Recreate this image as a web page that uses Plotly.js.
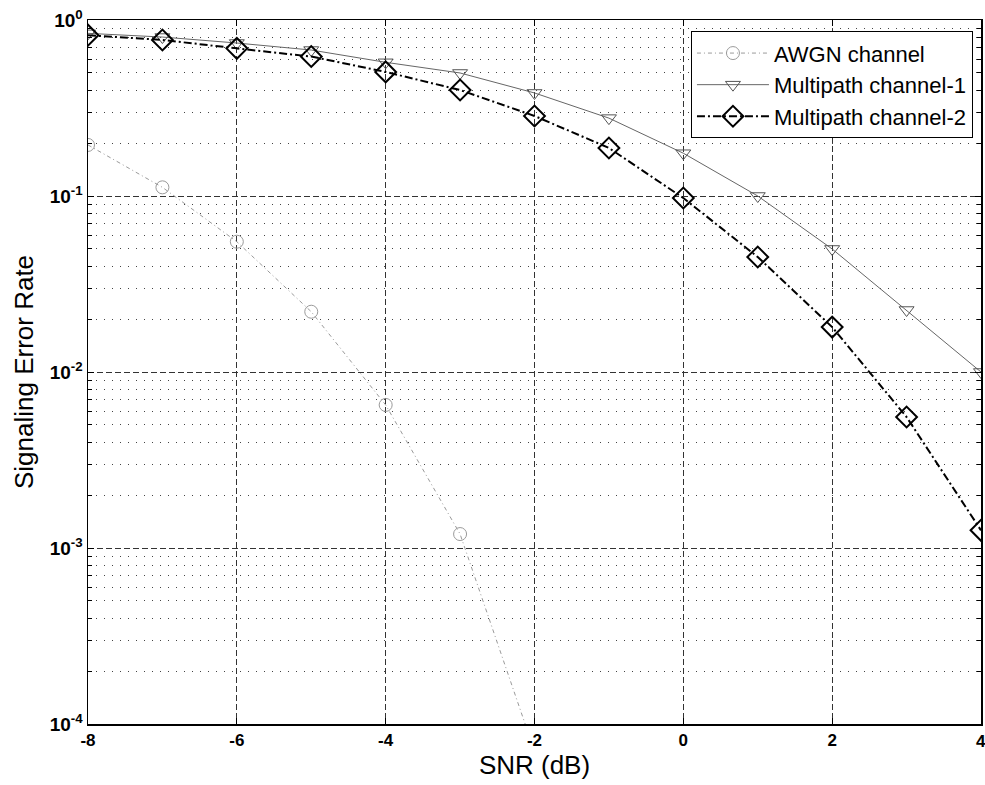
<!DOCTYPE html>
<html>
<head>
<meta charset="utf-8">
<script src="https://cdn.plot.ly/plotly-3.0.1.min.js"></script>
<style>body{margin:0;background:#fff}#chart{width:985px;height:785px}</style>
</head>
<body>
<div id="chart"></div>
<script>
// SNR values (dB)
const snr = [-8, -7, -6, -5, -4, -3, -2, -1, 0, 1, 2, 3, 4];
const snrAwgn = [-8, -7, -6, -5, -4, -3, -2];
// Signaling error rates
const awgn = [0.195, 0.112, 0.055, 0.022, 0.0065, 0.0012, 0.00007];
const multipath1 = [0.84, 0.80, 0.74, 0.675, 0.575, 0.50, 0.385, 0.277, 0.175, 0.100, 0.050, 0.0225, 0.0100];
const multipath2 = [0.82, 0.77, 0.69, 0.62, 0.507, 0.40, 0.285, 0.1875, 0.0974, 0.045, 0.018, 0.00555, 0.00126];
const seriesNames = ['AWGN channel', 'Multipath channel-1', 'Multipath channel-2'];
// Tick labels
const yTickVals = [1e-4, 1e-3, 1e-2, 1e-1, 1];
const yTickText = ['10<sup>-4</sup>', '10<sup>-3</sup>', '10<sup>-2</sup>', '10<sup>-1</sup>', '10<sup>0</sup>'];
const xTickVals = [-8, -6, -4, -2, 0, 2, 4];
const xTickText = ['-8', '-6', '-4', '-2', '0', '2', '4'];

const minorVals = [];
for (let e = -4; e < 0; e++) for (let m = 2; m <= 9; m++) minorVals.push(m * Math.pow(10, e));

const FONT = 'Liberation Sans, Arial, sans-serif';
const TICKFONT = {family: FONT, size: 17, color: '#000', weight: 'bold'};

const traces = [
  {x: snrAwgn, y: awgn, name: seriesNames[0], mode: 'lines+markers',
   line: {color: '#9a9a9a', width: 1, dash: '4px,3px,1px,3px'},
   marker: {symbol: 'circle-open', size: 13, color: '#9a9a9a', line: {width: 1}}},
  {x: snr, y: multipath1, name: seriesNames[1], mode: 'lines+markers',
   line: {color: '#666', width: 1},
   marker: {symbol: 'triangle-down-open', size: 13, color: '#555', line: {width: 1}}},
  {x: snr, y: multipath2, name: seriesNames[2], mode: 'lines+markers',
   line: {color: '#000', width: 2, dash: '8px,3px,2px,3px'},
   marker: {symbol: 'diamond-open', size: 16, color: '#000', line: {width: 2}}}
];

// The last x tick label sits on the right edge; draw it as an annotation so it is not auto-hidden
const edgeLabels = [{x: xTickVals[xTickVals.length - 1], y: 0, xref: 'x', yref: 'paper',
  yanchor: 'top', xanchor: 'center', yshift: -6, showarrow: false,
  text: xTickText[xTickText.length - 1], font: TICKFONT}];

const layout = {
  width: 985, height: 785,
  margin: {l: 88, r: 4, t: 20, b: 61},
  paper_bgcolor: '#fff', plot_bgcolor: '#fff',
  font: {family: FONT, color: '#000'},
  showlegend: true,
  annotations: edgeLabels,
  legend: {x: 0.991, y: 0.984, xanchor: 'right', yanchor: 'top',
    bgcolor: '#fff', bordercolor: '#000', borderwidth: 1, itemwidth: 72,
    font: {family: FONT, size: 22, color: '#000'}, tracegroupgap: 0},
  xaxis: {
    range: [-8, 4], tickmode: 'array', tickvals: xTickVals, ticktext: xTickText,
    ticks: 'inside', ticklen: 6, tickcolor: '#000', mirror: 'ticks',
    showline: true, linecolor: '#000', linewidth: 1.5,
    showgrid: true, gridcolor: '#333', gridwidth: 1, griddash: '6px,3px',
    zeroline: false,
    tickfont: TICKFONT,
    title: {text: 'SNR (dB)', font: {family: FONT, size: 26, color: '#000'}, standoff: 6}
  },
  yaxis: {
    type: 'log', range: [-4, 0], tickmode: 'array', tickvals: yTickVals, ticktext: yTickText,
    ticks: 'inside', ticklen: 6, tickcolor: '#000', mirror: 'ticks',
    showline: true, linecolor: '#000', linewidth: 1.5,
    showgrid: true, gridcolor: '#333', gridwidth: 1, griddash: '6px,3px',
    zeroline: false,
    tickfont: {family: FONT, size: 19, color: '#000', weight: 'bold'},
    minor: {tickmode: 'array', tickvals: minorVals, ticks: 'inside', ticklen: 4, tickcolor: '#000',
      showgrid: true, gridcolor: '#444', gridwidth: 1, griddash: '1px,7px'},
    title: {text: 'Signaling Error Rate', font: {family: FONT, size: 26, color: '#000'}, standoff: 8}
  }
};

Plotly.newPlot('chart', traces, layout, {displayModeBar: false, staticPlot: true});
</script>
</body>
</html>
